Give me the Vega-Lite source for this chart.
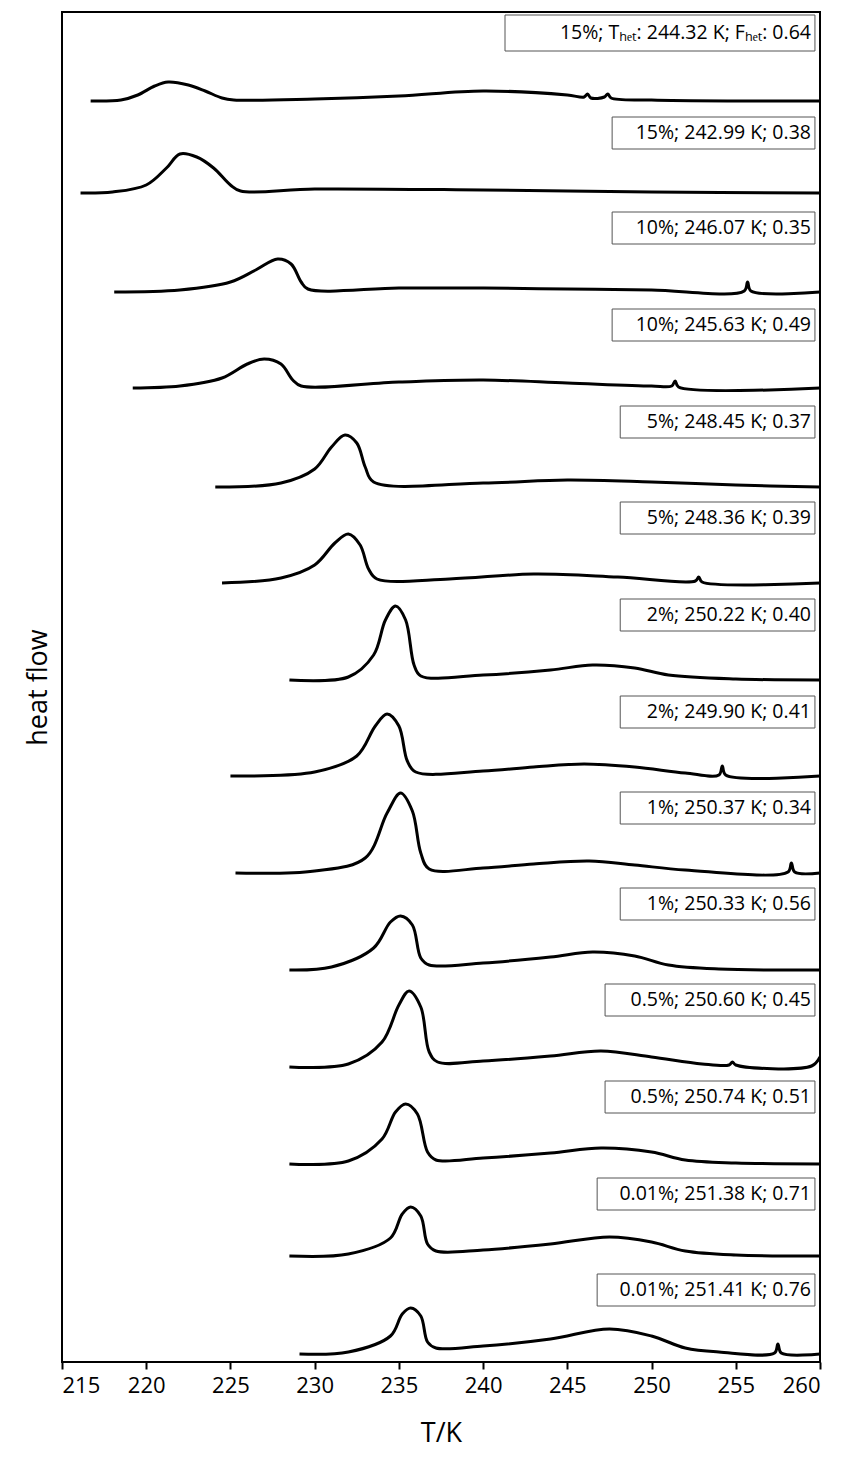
{
  "$schema": "https://vega.github.io/schema/vega-lite/v6.json",
  "width": 758,
  "height": 1350,
  "autosize": {"type": "none"},
  "padding": {"left": 62, "top": 12, "right": 29, "bottom": 113},
  "background": "white",
  "config": {
    "view": {"stroke": "black", "strokeWidth": 2},
    "font": "Open Sans"
  },
  "datasets": {
    "curves": [
      {"c":1,"T":216.7,"y":1261},{"c":1,"T":218.5,"y":1262},{"c":1,"T":219.5,"y":1267},{"c":1,"T":220.5,"y":1276},{"c":1,"T":221.3,"y":1280},{"c":1,"T":222.5,"y":1277},{"c":1,"T":223.5,"y":1271},{"c":1,"T":224.5,"y":1264},{"c":1,"T":225.2,"y":1262},{"c":1,"T":230,"y":1263},{"c":1,"T":235,"y":1266},{"c":1,"T":240,"y":1271},{"c":1,"T":245,"y":1267},{"c":1,"T":246,"y":1265},{"c":1,"T":246.2,"y":1268},{"c":1,"T":246.4,"y":1264},{"c":1,"T":247.2,"y":1265},{"c":1,"T":247.4,"y":1268},{"c":1,"T":247.6,"y":1264},{"c":1,"T":250,"y":1262},{"c":1,"T":255,"y":1261},{"c":1,"T":260,"y":1261},
      {"c":2,"T":216.1,"y":1169},{"c":2,"T":218,"y":1170},{"c":2,"T":220,"y":1177},{"c":2,"T":221.2,"y":1194},{"c":2,"T":222,"y":1208},{"c":2,"T":223,"y":1205},{"c":2,"T":224,"y":1194},{"c":2,"T":225,"y":1177},{"c":2,"T":225.6,"y":1171},{"c":2,"T":230,"y":1173},{"c":2,"T":240,"y":1172},{"c":2,"T":250,"y":1170},{"c":2,"T":260,"y":1169},
      {"c":3,"T":218.1,"y":1070},{"c":3,"T":222,"y":1072},{"c":3,"T":225,"y":1080},{"c":3,"T":226.5,"y":1092},{"c":3,"T":227.8,"y":1103},{"c":3,"T":228.6,"y":1098},{"c":3,"T":229.2,"y":1080},{"c":3,"T":229.6,"y":1073},{"c":3,"T":235,"y":1074},{"c":3,"T":240,"y":1074},{"c":3,"T":245,"y":1073},{"c":3,"T":250,"y":1072},{"c":3,"T":255.5,"y":1071},{"c":3,"T":255.7,"y":1080},{"c":3,"T":255.9,"y":1071},{"c":3,"T":260,"y":1070},
      {"c":4,"T":219.2,"y":974},{"c":4,"T":222,"y":976},{"c":4,"T":224.5,"y":984},{"c":4,"T":226,"y":998},{"c":4,"T":227,"y":1003},{"c":4,"T":228,"y":998},{"c":4,"T":228.7,"y":982},{"c":4,"T":229.2,"y":976},{"c":4,"T":235,"y":980},{"c":4,"T":240,"y":982},{"c":4,"T":245,"y":979},{"c":4,"T":250,"y":976},{"c":4,"T":251.2,"y":976},{"c":4,"T":251.4,"y":981},{"c":4,"T":251.6,"y":975},{"c":4,"T":260,"y":974},
      {"c":5,"T":224.1,"y":875},{"c":5,"T":228,"y":879},{"c":5,"T":230,"y":893},{"c":5,"T":231,"y":915},{"c":5,"T":231.8,"y":927},{"c":5,"T":232.5,"y":919},{"c":5,"T":233,"y":895},{"c":5,"T":233.5,"y":880},{"c":5,"T":240,"y":879},{"c":5,"T":245,"y":882},{"c":5,"T":250,"y":880},{"c":5,"T":255,"y":877},{"c":5,"T":260,"y":875},
      {"c":6,"T":224.5,"y":779},{"c":6,"T":228,"y":784},{"c":6,"T":230,"y":797},{"c":6,"T":231.2,"y":819},{"c":6,"T":232,"y":828},{"c":6,"T":232.7,"y":817},{"c":6,"T":233.2,"y":793},{"c":6,"T":233.7,"y":783},{"c":6,"T":238,"y":783},{"c":6,"T":243,"y":788},{"c":6,"T":248,"y":785},{"c":6,"T":252.6,"y":781},{"c":6,"T":252.8,"y":785},{"c":6,"T":253,"y":780},{"c":6,"T":260,"y":779},
      {"c":7,"T":228.5,"y":682},{"c":7,"T":232,"y":685},{"c":7,"T":233.5,"y":707},{"c":7,"T":234.2,"y":742},{"c":7,"T":234.8,"y":756},{"c":7,"T":235.4,"y":742},{"c":7,"T":235.9,"y":697},{"c":7,"T":236.3,"y":686},{"c":7,"T":240,"y":687},{"c":7,"T":244,"y":692},{"c":7,"T":246.5,"y":697},{"c":7,"T":249,"y":694},{"c":7,"T":251,"y":687},{"c":7,"T":255,"y":683},{"c":7,"T":260,"y":682},
      {"c":8,"T":225,"y":586},{"c":8,"T":230,"y":590},{"c":8,"T":232.5,"y":606},{"c":8,"T":233.6,"y":636},{"c":8,"T":234.3,"y":648},{"c":8,"T":235,"y":636},{"c":8,"T":235.5,"y":601},{"c":8,"T":236,"y":590},{"c":8,"T":240,"y":591},{"c":8,"T":243,"y":595},{"c":8,"T":246,"y":598},{"c":8,"T":249,"y":595},{"c":8,"T":252,"y":589},{"c":8,"T":254,"y":587},{"c":8,"T":254.2,"y":596},{"c":8,"T":254.4,"y":587},{"c":8,"T":260,"y":586},
      {"c":9,"T":225.3,"y":489},{"c":9,"T":230,"y":491},{"c":9,"T":233,"y":504},{"c":9,"T":234.3,"y":549},{"c":9,"T":235.1,"y":569},{"c":9,"T":235.8,"y":551},{"c":9,"T":236.3,"y":509},{"c":9,"T":236.8,"y":493},{"c":9,"T":240,"y":494},{"c":9,"T":243,"y":498},{"c":9,"T":246.3,"y":501},{"c":9,"T":249,"y":497},{"c":9,"T":252,"y":492},{"c":9,"T":258.1,"y":490},{"c":9,"T":258.3,"y":499},{"c":9,"T":258.5,"y":490},{"c":9,"T":260,"y":489},
      {"c":10,"T":228.5,"y":392},{"c":10,"T":231,"y":395},{"c":10,"T":233.5,"y":414},{"c":10,"T":234.5,"y":440},{"c":10,"T":235.1,"y":446},{"c":10,"T":235.8,"y":437},{"c":10,"T":236.3,"y":404},{"c":10,"T":236.8,"y":397},{"c":10,"T":240,"y":399},{"c":10,"T":244,"y":405},{"c":10,"T":246.5,"y":410},{"c":10,"T":249,"y":406},{"c":10,"T":251,"y":397},{"c":10,"T":254,"y":393},{"c":10,"T":260,"y":392},
      {"c":11,"T":228.5,"y":295},{"c":11,"T":232,"y":298},{"c":11,"T":234,"y":320},{"c":11,"T":235,"y":357},{"c":11,"T":235.6,"y":371},{"c":11,"T":236.3,"y":355},{"c":11,"T":236.8,"y":310},{"c":11,"T":237.3,"y":300},{"c":11,"T":240,"y":301},{"c":11,"T":244,"y":306},{"c":11,"T":247,"y":311},{"c":11,"T":250,"y":305},{"c":11,"T":253,"y":298},{"c":11,"T":254.6,"y":297},{"c":11,"T":254.8,"y":300},{"c":11,"T":255,"y":297},{"c":11,"T":259.5,"y":296},{"c":11,"T":260,"y":305},
      {"c":12,"T":228.5,"y":198},{"c":12,"T":232,"y":201},{"c":12,"T":234,"y":223},{"c":12,"T":234.8,"y":250},{"c":12,"T":235.4,"y":258},{"c":12,"T":236.1,"y":248},{"c":12,"T":236.7,"y":210},{"c":12,"T":237.2,"y":202},{"c":12,"T":240,"y":204},{"c":12,"T":244,"y":209},{"c":12,"T":247,"y":214},{"c":12,"T":250,"y":210},{"c":12,"T":252,"y":202},{"c":12,"T":255,"y":199},{"c":12,"T":260,"y":198},
      {"c":13,"T":228.5,"y":106},{"c":13,"T":232,"y":108},{"c":13,"T":234.5,"y":124},{"c":13,"T":235.2,"y":148},{"c":13,"T":235.7,"y":155},{"c":13,"T":236.3,"y":146},{"c":13,"T":236.7,"y":118},{"c":13,"T":237.2,"y":111},{"c":13,"T":240,"y":112},{"c":13,"T":244,"y":118},{"c":13,"T":247.5,"y":125},{"c":13,"T":250,"y":120},{"c":13,"T":252,"y":111},{"c":13,"T":255,"y":107},{"c":13,"T":260,"y":106},
      {"c":14,"T":229.1,"y":8},{"c":14,"T":232,"y":10},{"c":14,"T":234.5,"y":26},{"c":14,"T":235.2,"y":48},{"c":14,"T":235.7,"y":54},{"c":14,"T":236.3,"y":46},{"c":14,"T":236.7,"y":20},{"c":14,"T":237.2,"y":14},{"c":14,"T":240,"y":16},{"c":14,"T":244,"y":23},{"c":14,"T":247.5,"y":33},{"c":14,"T":250,"y":26},{"c":14,"T":252,"y":14},{"c":14,"T":254,"y":10},{"c":14,"T":257.3,"y":9},{"c":14,"T":257.5,"y":18},{"c":14,"T":257.7,"y":9},{"c":14,"T":260,"y":8}
    ],
    "labels": [
      {"label":"15%; Tₕₑₜ: 244.32 K; Fₕₑₜ: 0.64","left":241.3,"right":259.7,"y":1329,"top":1347,"bottom":1311},
      {"label":"15%; 242.99 K; 0.38","left":247.66,"right":259.7,"y":1229,"top":1245,"bottom":1213},
      {"label":"10%; 246.07 K; 0.35","left":247.66,"right":259.7,"y":1134,"top":1150,"bottom":1118},
      {"label":"10%; 245.63 K; 0.49","left":247.66,"right":259.7,"y":1037,"top":1053,"bottom":1021},
      {"label":"5%; 248.45 K; 0.37","left":248.14,"right":259.7,"y":940,"top":956,"bottom":924},
      {"label":"5%; 248.36 K; 0.39","left":248.14,"right":259.7,"y":844,"top":860,"bottom":828},
      {"label":"2%; 250.22 K; 0.40","left":248.14,"right":259.7,"y":747,"top":763,"bottom":731},
      {"label":"2%; 249.90 K; 0.41","left":248.14,"right":259.7,"y":650,"top":666,"bottom":634},
      {"label":"1%; 250.37 K; 0.34","left":248.14,"right":259.7,"y":554,"top":570,"bottom":538},
      {"label":"1%; 250.33 K; 0.56","left":248.14,"right":259.7,"y":458,"top":474,"bottom":442},
      {"label":"0.5%; 250.60 K; 0.45","left":247.24,"right":259.7,"y":362,"top":378,"bottom":346},
      {"label":"0.5%; 250.74 K; 0.51","left":247.24,"right":259.7,"y":265,"top":281,"bottom":249},
      {"label":"0.01%; 251.38 K; 0.71","left":246.77,"right":259.7,"y":168,"top":184,"bottom":152},
      {"label":"0.01%; 251.41 K; 0.76","left":246.77,"right":259.7,"y":72,"top":88,"bottom":56}
    ]
  },
  "layer": [
    {
      "data": {"name": "curves"},
      "mark": {"type": "line", "color": "black", "strokeWidth": 3, "interpolate": "catmull-rom", "clip": true},
      "encoding": {
        "x": {
          "field": "T", "type": "quantitative",
          "scale": {"domain": [215, 260], "nice": false, "zero": false},
          "axis": {
            "title": "T/K", "titleFontSize": 27, "titleFontWeight": "normal", "titleColor": "black", "titlePadding": 24,
            "labelFontSize": 22, "labelColor": "black", "labelPadding": 6,
            "values": [215, 220, 225, 230, 235, 240, 245, 250, 255, 260],
            "tickColor": "black", "tickSize": 7, "tickWidth": 2, "domain": false, "grid": false
          }
        },
        "y": {
          "field": "y", "type": "quantitative",
          "scale": {"domain": [0, 1350], "nice": false},
          "axis": {
            "title": "heat flow", "titleFontSize": 27, "titleFontWeight": "normal", "titleColor": "black",
            "titlePadding": 10, "labels": false, "ticks": false, "domain": false, "grid": false
          }
        },
        "detail": {"field": "c", "type": "nominal"}
      }
    },
    {
      "data": {"name": "labels"},
      "mark": {"type": "rect", "fill": "white", "stroke": "#555", "strokeWidth": 1},
      "encoding": {
        "x": {"field": "left", "type": "quantitative"},
        "x2": {"field": "right"},
        "y": {"field": "top", "type": "quantitative"},
        "y2": {"field": "bottom"}
      }
    },
    {
      "data": {"name": "labels"},
      "mark": {"type": "text", "align": "right", "baseline": "middle", "fontSize": 19.5, "dx": -4, "color": "black"},
      "encoding": {
        "x": {"field": "right", "type": "quantitative"},
        "y": {"field": "y", "type": "quantitative"},
        "text": {"field": "label"}
      }
    }
  ]
}
